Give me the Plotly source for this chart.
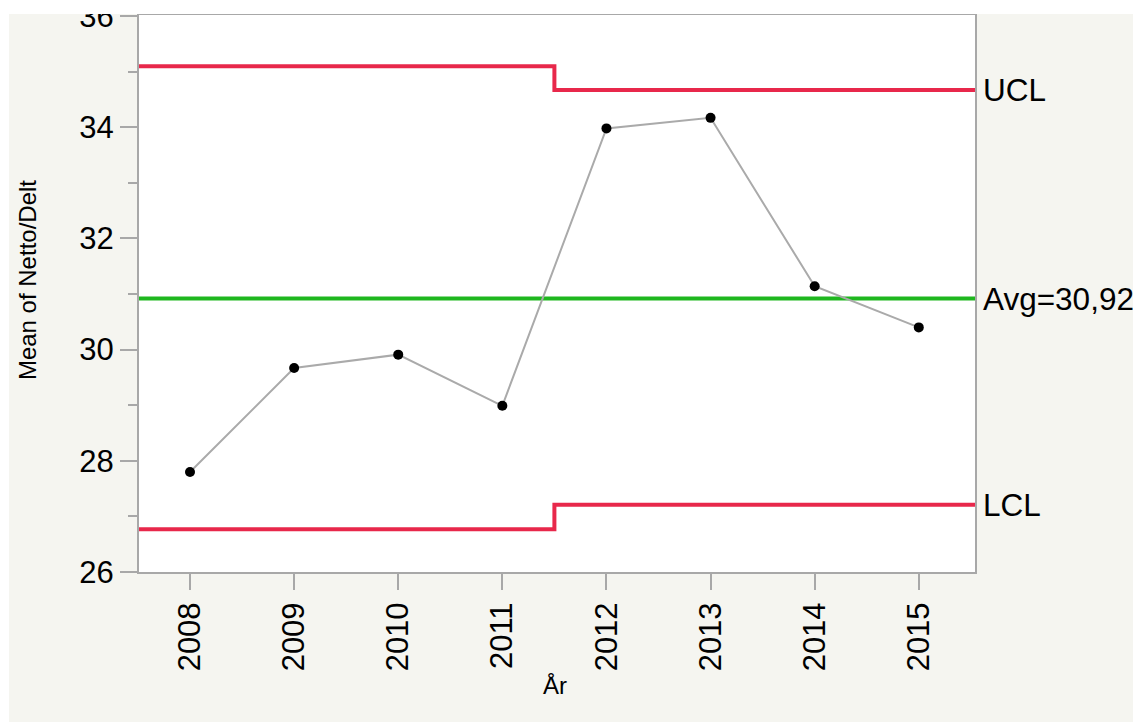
import plotly.graph_objects as go

years = [2008, 2009, 2010, 2011, 2012, 2013, 2014, 2015]
means = [27.80, 29.67, 29.91, 28.99, 33.98, 34.17, 31.14, 30.40]
ucl = [35.10, 35.10, 35.10, 35.10, 34.67, 34.67, 34.67, 34.67]
lcl = [26.77, 26.77, 26.77, 26.77, 27.21, 27.21, 27.21, 27.21]
avg = 30.92
y_ticks = [26, 28, 30, 32, 34, 36]

x_range = [2007.51, 2015.54]

def seg(vals):
    xs, ys = [], []
    for i, (yr, v) in enumerate(zip(years, vals)):
        x0 = x_range[0] if i == 0 else yr - 0.5
        x1 = x_range[1] if i == len(years) - 1 else yr + 0.5
        xs += [x0, x1]
        ys += [v, v]
    return xs, ys

RED = "#E8284B"
GREEN = "#1FB71F"
AXC = "#A8A8A8"
FONT = "Liberation Sans, Arial, sans-serif"
TF = 31

fig = go.Figure()
ux, uy = seg(ucl)
lx, ly = seg(lcl)
ax_, ay_ = seg([avg] * len(years))
fig.add_trace(go.Scatter(x=ux, y=uy, mode="lines", line=dict(color=RED, width=4), hoverinfo="skip"))
fig.add_trace(go.Scatter(x=lx, y=ly, mode="lines", line=dict(color=RED, width=4), hoverinfo="skip"))
fig.add_trace(go.Scatter(x=ax_, y=ay_, mode="lines", line=dict(color=GREEN, width=4), hoverinfo="skip"))
fig.add_trace(go.Scatter(x=years, y=means, mode="lines+markers",
                         line=dict(color="#AAAAAA", width=2),
                         marker=dict(color="black", size=10)))

fig.update_layout(
    width=1141, height=722,
    margin=dict(l=131, r=174, t=7, b=158),
    paper_bgcolor="#F5F5F0", plot_bgcolor="white",
    showlegend=False,
    font=dict(family=FONT, color="black"),
    shapes=[
        dict(type="rect", xref="paper", yref="paper", x0=-0.2, x1=1.25,
             y0=1.0018, y1=1.1, fillcolor="white", line=dict(width=0), layer="above"),
        dict(type="rect", xref="paper", yref="paper", x0=-0.2, x1=-0.1555,
             y0=-0.4, y1=1.1, fillcolor="white", line=dict(width=0), layer="above"),
    ],
    annotations=[
        dict(x=1, y=ucl[-1], xref="paper", yref="y", text="UCL", showarrow=False,
             xanchor="left", yanchor="middle", xshift=6, font=dict(size=31.5, family=FONT)),
        dict(x=1, y=avg, xref="paper", yref="y", text="Avg=30,92", showarrow=False,
             xanchor="left", yanchor="middle", xshift=6, font=dict(size=31.5, family=FONT)),
        dict(x=1, y=lcl[-1], xref="paper", yref="y", text="LCL", showarrow=False,
             xanchor="left", yanchor="middle", xshift=6, font=dict(size=31.5, family=FONT)),
        dict(x=-0.134, y=0.524, xref="paper", yref="paper", text="Mean of Netto/Delt",
             textangle=-90, showarrow=False, xanchor="center", yanchor="middle",
             font=dict(size=24, family=FONT)),
        dict(x=0.4976, y=-0.203, xref="paper", yref="paper", text="År",
             showarrow=False, xanchor="center", yanchor="middle",
             font=dict(size=24, family=FONT)),
    ],
)

fig.update_xaxes(
    range=x_range, tickvals=years, ticktext=[str(y) for y in years], tickangle=-90,
    showline=True, linecolor=AXC, linewidth=2, mirror=True, automargin=False,
    ticks="outside", ticklen=16, tickwidth=2, tickcolor=AXC,
    showgrid=False, zeroline=False, tickfont=dict(size=TF, family=FONT),
)
fig.update_yaxes(
    range=[26, 36.02], tickvals=y_ticks, automargin=False, ticklabeloverflow="allow",
    showline=True, linecolor=AXC, linewidth=2, mirror=True,
    ticks="outside", ticklen=17, tickwidth=2, tickcolor=AXC,
    minor=dict(ticks="outside", ticklen=9, tickwidth=2, tickcolor=AXC, dtick=1, tick0=27, showgrid=False),
    showgrid=False, zeroline=False, tickfont=dict(size=TF, family=FONT),
)

fig.write_html("out.html")
